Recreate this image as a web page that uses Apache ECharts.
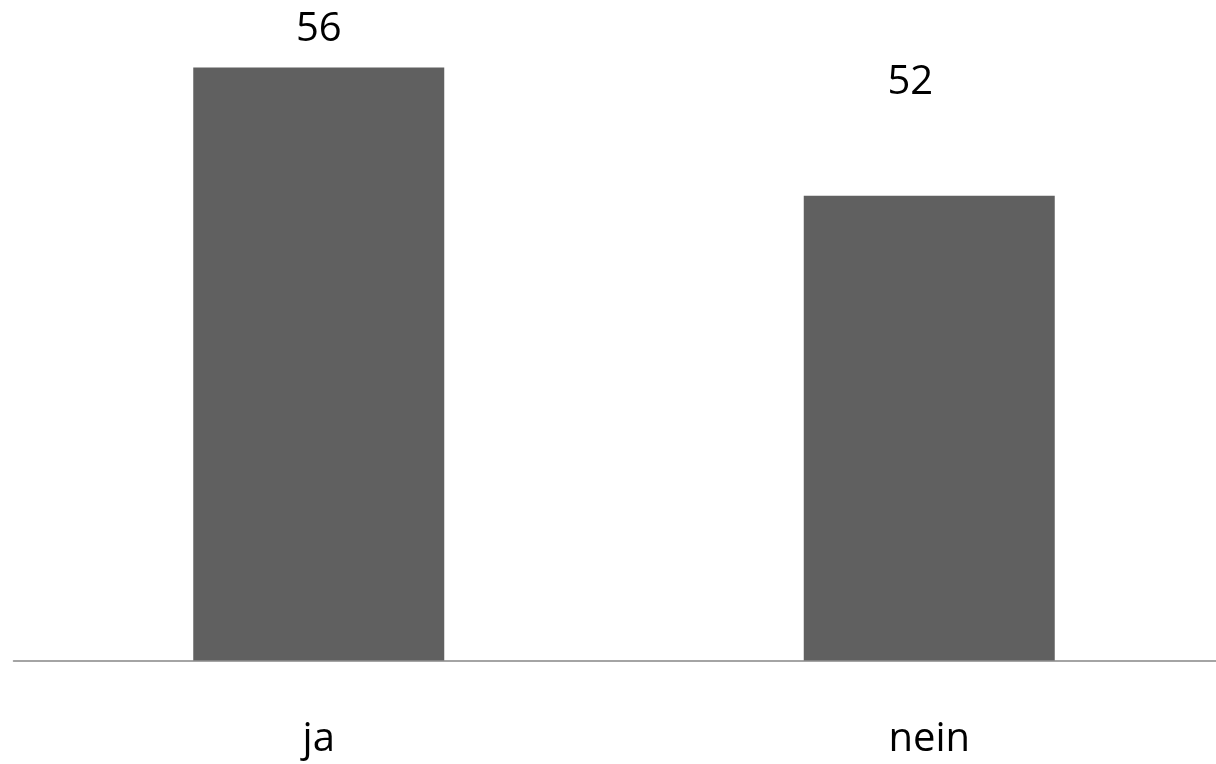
<!DOCTYPE html>
<html>
<head>
<meta charset="utf-8">
<script src="https://cdn.jsdelivr.net/npm/echarts@6/dist/echarts.min.js"></script>
<style>html,body{margin:0;padding:0;background:#fff;}#c{width:1216px;height:764px;}</style>
</head>
<body>
<div id="c"></div>
<script>
const categories = ['ja', 'nein'];
const values = [56, 52];

const labelOffsets = [[0, -13], [-19, -88]];

const chart = echarts.init(document.getElementById('c'), null, {renderer: 'canvas'});
chart.setOption({
  animation: false,
  backgroundColor: '#ffffff',
  textStyle: {fontFamily: 'Open Sans'},
  grid: {left: 13.5, top: 3.3, right: -18.5, bottom: 103.5, containLabel: false, outerBoundsMode: 'none'},
  xAxis: {
    type: 'category',
    data: categories,
    axisLine: {show: true, lineStyle: {color: '#868686', width: 1.5}},
    axisTick: {show: false},
    axisLabel: {fontSize: 40, color: '#000', margin: 59, fontFamily: 'Open Sans'}
  },
  yAxis: {
    type: 'value',
    min: 37.5,
    max: 58,
    show: false,
    splitLine: {show: false}
  },
  series: [{
    type: 'bar',
    barWidth: 251,
    itemStyle: {color: '#606060'},
    data: values.map((v, i) => ({
      value: v,
      label: {show: true, position: 'top', offset: labelOffsets[i], fontSize: 40, color: '#000', fontFamily: 'Open Sans'}
    }))
  }]
});
</script>
</body>
</html>
